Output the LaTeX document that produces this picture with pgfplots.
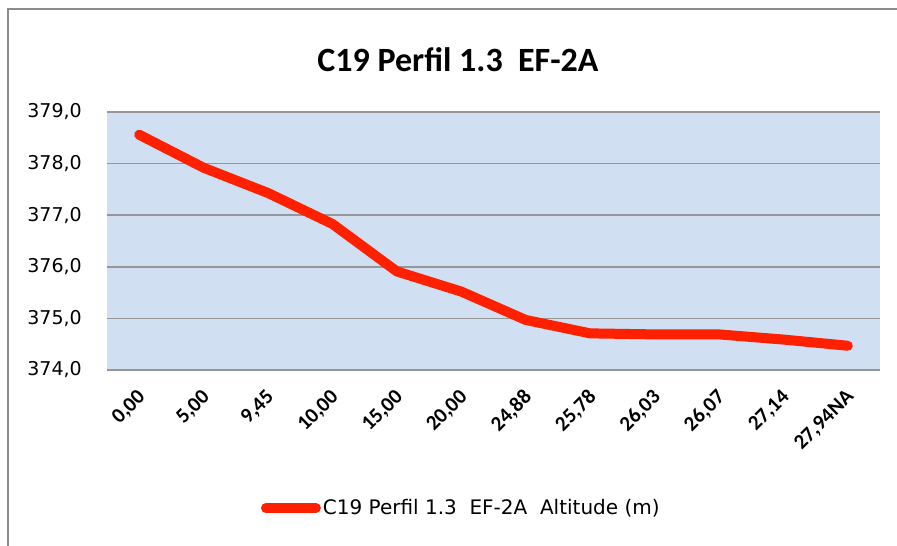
\documentclass[border=0pt]{standalone}
\usepackage{fontspec}
\setmainfont{Carlito}
\newfontfamily\dejavu{DejaVu Sans}
\usepackage{pgfplots}
\pgfplotsset{compat=1.18}
\definecolor{plotbg}{RGB}{208,223,241}
\definecolor{gridgray}{RGB}{150,150,150}
\definecolor{linered}{RGB}{255,32,0}
\definecolor{framegray}{RGB}{140,140,140}

\begin{document}
\begin{tikzpicture}[x=1pt, y=1pt]
\useasboundingbox (0,0) rectangle (897,546);
\draw[framegray, line width=2.2pt] (8,0) -- (8,537) -- (897,537);
\node[font=\fontsize{34}{38}\selectfont\bfseries] at (458,486) {C19 Perfil 1.3\ \ EF-2A};
\begin{axis}[
    at={(107pt,176pt)}, anchor=south west,
    scale only axis, width=773pt, height=258pt,
    xmin=-0.5, xmax=11.5, ymin=374, ymax=379,
    axis background/.style={fill=plotbg},
    axis line style={draw=none},
    axis x line*=bottom,
    ytick={374,375,...,379},
    xtick={0,...,11},
    xticklabels={{0,00}, {5,00}, {9,45}, {10,00}, {15,00}, {20,00}, {24,88}, {25,78}, {26,03}, {26,07}, {27,14}, {27,94NA}},
    ymajorgrids, grid style={gridgray, line width=1.6pt},
    major tick length=0pt,
    yticklabel style={inner sep=0pt, xshift=-25pt, font=\dejavu\fontsize{19}{22}\selectfont},
    y tick label style={/pgf/number format/.cd, fixed, fixed zerofill, precision=1, use comma, 1000 sep={}, assume math mode=true},
    xticklabel style={xshift=3pt, yshift=-24pt, rotate=45, anchor=east, inner sep=0pt, font=\fontsize{21}{24}\selectfont\bfseries},
    legend style={at={(0.195,-0.535)}, anchor=west, draw=none, fill=none, font=\dejavu\fontsize{20}{24}\selectfont},
    legend image code/.code={\draw[#1, line cap=round] (0pt,0pt) -- (50pt,0pt);},
    clip=false,
]
\addplot[color=linered, line width=10pt, line join=round, line cap=round] coordinates {
(0,378.56) (1,377.92) (2,377.43) (3,376.83) (4,375.91) (5,375.52)
(6,374.97) (7,374.71) (8,374.69) (9,374.69) (10,374.59) (11,374.47)
};
\addlegendentry{C19 Perfil 1.3\ \ EF-2A\ \ Altitude (m)}
\end{axis}
\draw[gridgray, line width=2.4pt] (107,176) -- (880,176);
\end{tikzpicture}
\end{document}
